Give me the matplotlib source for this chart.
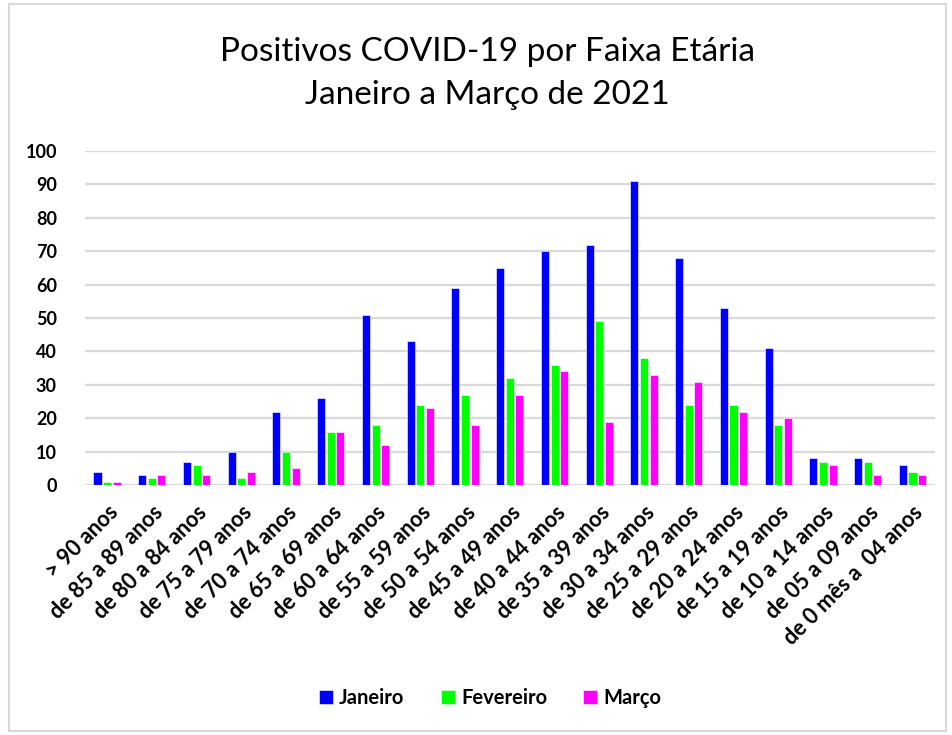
import numpy as np
import matplotlib
matplotlib.use("Agg")
from matplotlib import pyplot as plt
from matplotlib.patches import Rectangle

plt.rcParams['font.family'] = ['Lato', 'DejaVu Sans']

# Faixas etarias (eixo x)
faixas = [
    "> 90 anos", "de 85 a 89 anos", "de 80 a 84 anos", "de 75 a 79 anos",
    "de 70 a 74 anos", "de 65 a 69 anos", "de 60 a 64 anos", "de 55 a 59 anos",
    "de 50 a 54 anos", "de 45 a 49 anos", "de 40 a 44 anos", "de 35 a 39 anos",
    "de 30 a 34 anos", "de 25 a 29 anos", "de 20 a 24 anos", "de 15 a 19 anos",
    "de 10 a 14 anos", "de 05 a 09 anos", "de 0 mês a  04 anos",
]

janeiro = [4, 3, 7, 10, 22, 26, 51, 43, 59, 65, 70, 72, 91, 68, 53, 41, 8, 8, 6]
fevereiro = [1, 2, 6, 2, 10, 16, 18, 24, 27, 32, 36, 49, 38, 24, 24, 18, 7, 7, 4]
marco = [1, 3, 3, 4, 5, 16, 12, 23, 18, 27, 34, 19, 33, 31, 22, 20, 6, 3, 3]

series = [("Janeiro", janeiro, "#0000ff"),
          ("Fevereiro", fevereiro, "#00ff00"),
          ("Março", marco, "#ff00ff")]

fig = plt.figure(figsize=(9.52, 7.35), dpi=100)
ax = fig.add_axes([0.089, 0.340, 0.893, 0.4546])

x = np.arange(len(faixas))
width = 0.18
step = 0.215
for i, (name, vals, color) in enumerate(series):
    ax.bar(x + (i - 1) * step, vals, width, color=color, label=name,
           edgecolor="white", linewidth=0.4, zorder=3)

ax.set_xlim(-0.5, len(faixas) - 0.5)
ax.set_ylim(0, 100)
ax.set_yticks(range(0, 101, 10))
ax.yaxis.grid(True, color="#d9d9d9", linewidth=1.6, zorder=0)
ax.set_axisbelow(True)
for s in ax.spines.values():
    s.set_visible(False)
ax.tick_params(axis="both", length=0)
ax.tick_params(axis="y", labelsize=13, pad=20)
for lab in ax.get_yticklabels():
    lab.set_fontweight("bold")

ax.set_xticks(x)
ax.set_xticklabels(faixas, rotation=45, ha="right", rotation_mode="anchor",
                   fontsize=15.5, fontweight="bold")
ax.tick_params(axis="x", pad=12)

fig.text(0.512, 0.9, "Positivos COVID-19 por Faixa Etária\nJaneiro a Março de 2021",
         ha="center", va="center", fontsize=24, linespacing=1.55)

fig.legend(loc="center", bbox_to_anchor=(0.515, 0.05), ncol=3, frameon=False,
           prop={"weight": "bold", "size": 14.5}, handlelength=0.7,
           handleheight=0.7, handletextpad=0.3, columnspacing=1.8)

fig.patches.append(Rectangle((0.009, 0.005), 0.985, 0.99, transform=fig.transFigure,
                             fill=False, edgecolor="#d9d9d9", linewidth=1.5))

fig.savefig("out.png", dpi=100, facecolor="white")
